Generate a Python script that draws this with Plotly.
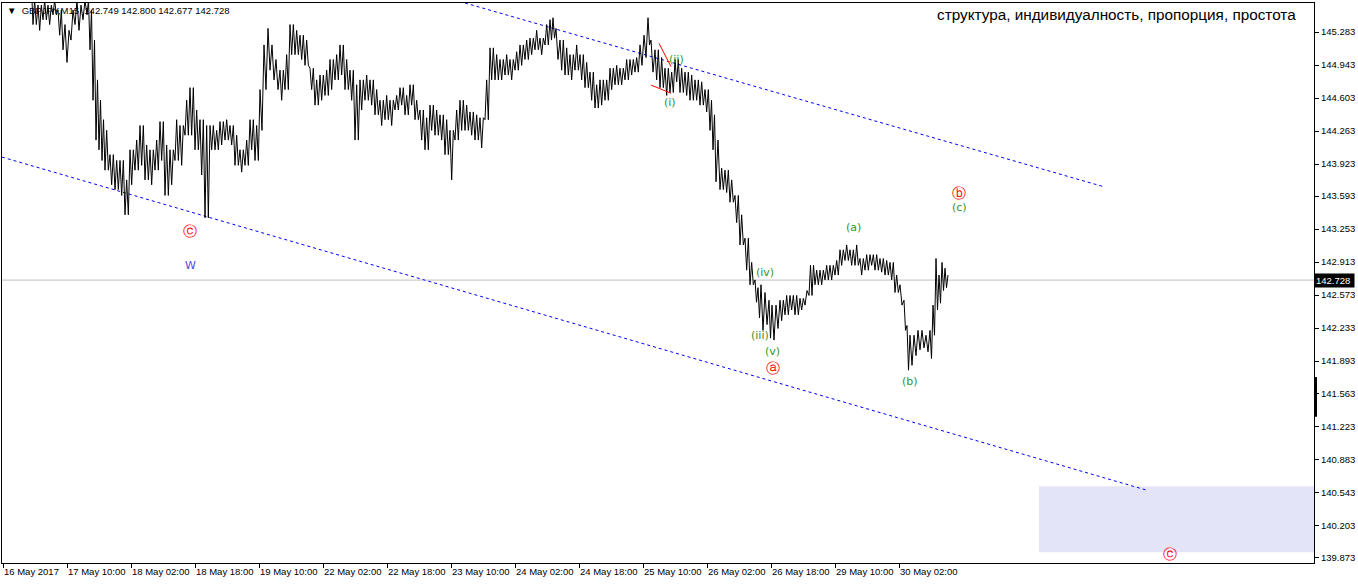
import plotly.graph_objects as go

# ---- price samples (bar index ~ 15-minute bars, high / low) ----
bars = [5, 15, 25, 33, 38, 43, 48, 53, 58, 63, 67, 71, 75, 79, 83, 87, 90, 93, 96, 99,
        102, 105, 110, 115, 120, 125, 130, 135, 140, 145, 150, 155, 160, 165, 170, 175, 180, 185, 190, 195,
        200, 205, 210, 215, 220, 225, 230, 235, 240, 245, 250, 255, 260, 264, 268, 272, 276, 280, 285, 290,
        295, 300, 305, 310, 315, 320, 325, 330, 335, 340, 345, 350, 355, 360, 365, 370, 375, 380, 385, 390,
        395, 400, 405, 410, 415, 420, 425, 430, 435, 440, 445, 450, 455, 460, 465, 470, 475, 480, 485, 490,
        495, 500, 505, 510, 515, 520, 525, 530, 535, 540, 545, 550, 553, 556, 560, 565, 570, 575, 580, 585,
        590, 595, 600, 605, 610, 615, 620, 625, 630, 635, 640, 644, 648, 651, 655, 660, 665, 670, 675, 680,
        685, 690, 695, 700, 705, 710, 713, 716, 720, 725, 730, 735, 740, 745, 750, 755, 758, 761, 765, 769,
        772, 776, 780, 785, 790, 795, 800, 805, 809, 815, 820, 825, 830, 835, 840, 845, 850, 855, 860, 865,
        870, 875, 880, 885, 890, 895, 900, 904, 907, 910, 914, 918, 922, 926, 930, 933, 936, 939, 942, 945, 948]

highs = [145.80, 145.78, 145.75, 145.61, 145.56, 145.61, 145.56, 145.61, 145.51, 145.36, 145.30, 145.51, 145.61, 145.56, 145.61, 145.61, 145.51, 145.20, 144.79, 144.58,
         144.38, 144.27, 144.02, 143.96, 143.96, 143.76, 144.07, 144.17, 144.32, 144.12, 144.07, 144.17, 144.36, 144.12, 144.07, 144.38, 144.32, 144.58, 144.71, 144.48,
         144.38, 144.32, 144.32, 144.27, 144.36, 144.38, 144.32, 144.22, 144.07, 144.17, 144.38, 144.32, 144.69, 145.15, 145.32, 145.15, 145.00, 144.89, 145.05, 145.36,
         145.30, 145.25, 145.20, 144.91, 144.79, 144.84, 144.89, 145.00, 145.05, 145.15, 145.00, 144.89, 144.74, 144.79, 144.84, 144.79, 144.69, 144.58, 144.63, 144.58,
         144.63, 144.71, 144.63, 144.74, 144.58, 144.48, 144.40, 144.53, 144.48, 144.43, 144.38, 144.27, 144.48, 144.58, 144.53, 144.46, 144.43, 144.40, 144.79, 145.12,
         145.05, 145.00, 145.05, 145.00, 145.08, 145.15, 145.20, 145.22, 145.30, 145.22, 145.36, 145.41, 145.43, 145.32, 145.20, 145.12, 145.05, 145.15, 145.05, 144.97,
         144.87, 144.74, 144.79, 144.79, 144.91, 144.94, 144.91, 145.00, 145.00, 145.02, 145.15, 145.25, 145.43, 145.20, 145.10, 145.02, 144.91, 144.87, 145.00, 144.91,
         144.87, 144.84, 144.79, 144.77, 144.69, 144.58, 144.43, 144.17, 143.88, 143.86, 143.76, 143.60, 143.40, 143.16, 142.91, 142.73, 142.65, 142.68, 142.60, 142.52,
         142.47, 142.47, 142.52, 142.57, 142.57, 142.57, 142.54, 142.62, 142.88, 142.83, 142.83, 142.88, 142.88, 142.93, 143.04, 143.09, 143.04, 143.09, 142.95, 142.99,
         142.99, 142.99, 142.95, 142.93, 142.91, 142.78, 142.68, 142.52, 142.26, 142.16, 142.16, 142.21, 142.21, 142.16, 142.21, 142.47, 142.95, 142.78, 142.91, 142.85, 142.78]

lows = [145.62, 145.63, 145.60, 145.36, 145.30, 145.41, 145.36, 145.46, 145.25, 145.10, 144.97, 145.20, 145.36, 145.30, 145.41, 145.46, 145.10, 144.58, 144.17, 144.07,
        143.96, 143.86, 143.71, 143.66, 143.60, 143.40, 143.71, 143.86, 143.91, 143.76, 143.71, 143.86, 143.96, 143.60, 143.71, 143.96, 143.91, 144.22, 144.22, 144.07,
        143.81, 143.37, 144.07, 144.07, 144.12, 144.17, 144.12, 143.91, 143.84, 143.91, 144.07, 143.96, 144.27, 144.69, 144.89, 144.79, 144.69, 144.58, 144.69, 145.05,
        145.05, 145.00, 144.94, 144.69, 144.53, 144.58, 144.63, 144.69, 144.79, 144.84, 144.69, 144.58, 144.17, 144.48, 144.58, 144.53, 144.43, 144.32, 144.38, 144.32,
        144.48, 144.53, 144.43, 144.53, 144.38, 144.17, 144.07, 144.27, 144.22, 144.17, 144.02, 143.76, 144.17, 144.27, 144.27, 144.22, 144.17, 144.09, 144.38, 144.79,
        144.79, 144.79, 144.84, 144.79, 144.89, 144.94, 145.00, 145.05, 145.10, 145.05, 145.15, 145.20, 145.22, 145.00, 144.89, 144.84, 144.79, 144.89, 144.79, 144.71,
        144.58, 144.50, 144.53, 144.58, 144.69, 144.74, 144.74, 144.79, 144.84, 144.87, 144.94, 145.02, 145.15, 144.87, 144.79, 144.71, 144.63, 144.66, 144.77, 144.66,
        144.63, 144.58, 144.58, 144.53, 144.46, 144.27, 144.07, 143.74, 143.66, 143.63, 143.53, 143.32, 143.09, 142.83, 142.68, 142.50, 142.34, 142.21, 142.27, 142.13,
        142.11, 142.23, 142.31, 142.37, 142.42, 142.37, 142.42, 142.47, 142.57, 142.68, 142.68, 142.73, 142.73, 142.78, 142.88, 142.93, 142.88, 142.88, 142.78, 142.83,
        142.88, 142.83, 142.81, 142.78, 142.73, 142.60, 142.47, 142.21, 141.80, 141.85, 141.95, 142.01, 142.03, 141.99, 141.92, 142.16, 142.42, 142.49, 142.62, 142.65, 142.68]

# ---- axis ticks ----
x_tick_bars = [3, 67, 131, 195, 259, 323, 387, 451, 515, 579, 643, 707, 771, 835, 899]
x_tick_text = ["16 May 2017", "17 May 10:00", "18 May 02:00", "18 May 18:00", "19 May 10:00",
               "22 May 02:00", "22 May 18:00", "23 May 10:00", "24 May 02:00", "24 May 18:00",
               "25 May 10:00", "26 May 02:00", "26 May 18:00", "29 May 10:00", "30 May 02:00"]
y_tick_vals = [145.283, 144.943, 144.603, 144.263, 143.923, 143.593, 143.253, 142.913,
               142.573, 142.233, 141.893, 141.563, 141.223, 140.883, 140.543, 140.203, 139.873]

last_price = 142.728
header_text = "GBPJPY,M15  142.749 142.800 142.677 142.728"
title_text = "структура, индивидуалность, пропорция, простота"

# ---- channel lines and wedge ----
upper_ch_bars = [465, 1105]
upper_ch_prices = [145.582, 143.686]
lower_ch_bars = [2, 1147]
lower_ch_prices = [143.995, 140.563]
wedge1_bars = [659, 671]
wedge1_prices = [145.167, 144.926]
wedge2_bars = [651, 671]
wedge2_prices = [144.737, 144.652]

# target zone
zone_bars = [1039, 1314]
zone_prices = [139.924, 140.605]

# ---- wave labels ----
wave_text = ["(i)", "(ii)", "(iii)", "(iv)", "(v)", "(a)", "(b)", "(c)"]
wave_bars = [670, 676, 760, 765, 772, 853, 910, 959]
wave_prices = [144.56, 145.00, 142.16, 142.81, 141.99, 143.27, 141.68, 143.48]

circ_text = ["ⓒ", "ⓐ", "ⓑ", "ⓒ"]
circ_bars = [190, 773, 959, 1170]
circ_prices = [143.23, 141.82, 143.63, 139.91]

w_text = "W"
w_bar = 190
w_price = 142.88

# ---- build dense high/low stroke path (each sample's range drawn as vertical strokes) ----
px, py = [], []
flip = 0
for i, (b, h, l) in enumerate(zip(bars, highs, lows)):
    b_next = bars[i + 1] if i + 1 < len(bars) else b + 1
    span = b_next - b
    n = max(1, int(round(span / 1.6)))
    for k in range(n):
        px.append(b + span * k / n)
        py.append(h if flip == 0 else l)
        flip = 1 - flip

fig = go.Figure()

fig.add_shape(type="rect", x0=zone_bars[0], x1=zone_bars[1], y0=zone_prices[0], y1=zone_prices[1],
              fillcolor="#E4E4F8", line=dict(width=0), layer="below")
fig.add_shape(type="line", xref="paper", x0=0, x1=1, y0=last_price, y1=last_price,
              line=dict(color="#C0C0C0", width=1), layer="below")

fig.add_trace(go.Scatter(x=upper_ch_bars, y=upper_ch_prices, mode="lines",
                         line=dict(color="#0000FF", width=1, dash="dot"), hoverinfo="skip"))
fig.add_trace(go.Scatter(x=lower_ch_bars, y=lower_ch_prices, mode="lines",
                         line=dict(color="#0000FF", width=1, dash="dot"), hoverinfo="skip"))

fig.add_trace(go.Scatter(x=px, y=py, mode="lines", line=dict(color="black", width=1),
                         hoverinfo="skip"))

fig.add_trace(go.Scatter(x=wedge1_bars, y=wedge1_prices, mode="lines",
                         line=dict(color="#FF0000", width=1), hoverinfo="skip"))
fig.add_trace(go.Scatter(x=wedge2_bars, y=wedge2_prices, mode="lines",
                         line=dict(color="#FF0000", width=1), hoverinfo="skip"))

for t, b, p in zip(wave_text, wave_bars, wave_prices):
    fig.add_annotation(x=b, y=p, text=t, showarrow=False,
                       font=dict(family="DejaVu Sans", size=11, color="#2E962E"))
for t, b, p in zip(circ_text, circ_bars, circ_prices):
    fig.add_annotation(x=b, y=p, text=t, showarrow=False,
                       font=dict(family="DejaVu Sans", size=14, color="#FF0000"))
fig.add_annotation(x=w_bar, y=w_price, text=w_text, showarrow=False,
                   font=dict(family="DejaVu Sans", size=11, color="#4B4BE8"))

fig.add_annotation(xref="paper", yref="paper", x=0.002, y=1, xanchor="left", yanchor="top",
                   text="▼  " + header_text, showarrow=False,
                   font=dict(family="Liberation Sans", size=9.5, color="black"))
fig.add_annotation(xref="paper", yref="paper", x=0.8498, y=0.998, xanchor="center", yanchor="top",
                   text=title_text, showarrow=False,
                   font=dict(family="Liberation Sans", size=15.3, color="black"))

fig.add_annotation(xref="paper", x=1.0, y=last_price, xanchor="left", yanchor="middle",
                   text=str(last_price) + " ", showarrow=False, bgcolor="black",
                   font=dict(family="Liberation Sans", size=9.5, color="white"), borderpad=1)

fig.add_shape(type="rect", xref="paper", x0=1.0, x1=1.0023, y0=141.32, y1=141.73,
              fillcolor="black", line=dict(width=0))

fig.update_layout(
    width=1358, height=584,
    margin=dict(l=2, r=44, t=3, b=21, autoexpand=False),
    paper_bgcolor="white", plot_bgcolor="white",
    showlegend=False,
    xaxis=dict(range=[2, 1314], tickvals=x_tick_bars, ticktext=x_tick_text, automargin=False,
               tickangle=0,
               ticks="outside", ticklen=4, tickcolor="black", ticklabelposition="outside right",
               showgrid=False, zeroline=False, showline=True, mirror=True, linecolor="black",
               linewidth=1, tickfont=dict(family="Liberation Sans", size=9.5, color="black")),
    yaxis=dict(range=[139.814, 145.582], side="right", tickvals=y_tick_vals, automargin=False,
               ticktext=["%.3f" % v for v in y_tick_vals],
               ticks="outside", ticklen=4, tickcolor="black",
               showgrid=False, zeroline=False, showline=True, mirror=True, linecolor="black",
               linewidth=1, tickfont=dict(family="Liberation Sans", size=9.5, color="black")),
)

fig.write_html("out.html", config={"displayModeBar": False},
               post_script="document.body.style.margin='0px';document.body.style.padding='0px';")
